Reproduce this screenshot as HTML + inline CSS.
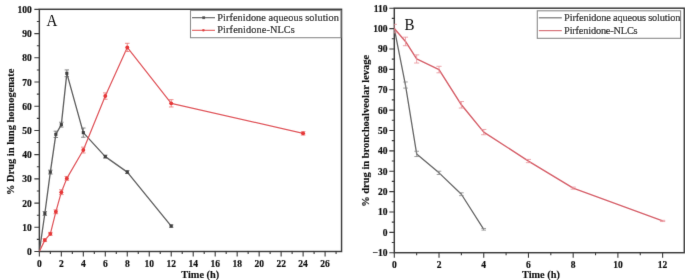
<!DOCTYPE html>
<html><head><meta charset="utf-8"><style>
html,body{margin:0;padding:0;background:#fff;}
svg{display:block;}
</style></head><body>
<svg width="685" height="280" viewBox="0 0 685 280">
<rect width="685" height="280" fill="#fff"/>
<defs><filter id="soft" x="0" y="0" width="685" height="280" filterUnits="userSpaceOnUse"><feConvolveMatrix order="3" kernelMatrix="0.0052 0.0619 0.0052 0.0619 0.7314 0.0619 0.0052 0.0619 0.0052" edgeMode="none"/></filter></defs>
<g filter="url(#soft)">
<defs><clipPath id="ca"><rect x="39.35" y="9.3" width="302.2" height="242.2"/></clipPath><clipPath id="cb"><rect x="394.3" y="8.2" width="290" height="244.5"/></clipPath></defs>
<rect x="39.35" y="9.3" width="302.2" height="242.2" fill="none" stroke="#3a3a3a" stroke-width="1.45"/>
<path d="M39.35 251.5H34.35 M39.35 239.4H36.85 M39.35 227.29H34.35 M39.35 215.19H36.85 M39.35 203.08H34.35 M39.35 190.97H36.85 M39.35 178.87H34.35 M39.35 166.76H36.85 M39.35 154.66H34.35 M39.35 142.56H36.85 M39.35 130.45H34.35 M39.35 118.34H36.85 M39.35 106.24H34.35 M39.35 94.14H36.85 M39.35 82.03H34.35 M39.35 69.93H36.85 M39.35 57.82H34.35 M39.35 45.72H36.85 M39.35 33.61H34.35 M39.35 21.51H36.85 M39.35 9.4H34.35 M39.35 251.5V256.5 M50.34 251.5V254 M61.33 251.5V256.5 M72.32 251.5V254 M83.31 251.5V256.5 M94.3 251.5V254 M105.29 251.5V256.5 M116.28 251.5V254 M127.27 251.5V256.5 M138.26 251.5V254 M149.25 251.5V256.5 M160.24 251.5V254 M171.23 251.5V256.5 M182.22 251.5V254 M193.21 251.5V256.5 M204.2 251.5V254 M215.19 251.5V256.5 M226.18 251.5V254 M237.17 251.5V256.5 M248.16 251.5V254 M259.15 251.5V256.5 M270.14 251.5V254 M281.13 251.5V256.5 M292.12 251.5V254 M303.11 251.5V256.5 M314.1 251.5V254 M325.09 251.5V256.5 M336.08 251.5V254" stroke="#3a3a3a" stroke-width="1.1" fill="none"/>
<g font-family="'Liberation Serif', 'Times New Roman', serif" font-weight="bold" font-size="9.5" fill="#111" stroke="#111" stroke-width="0.2"><text x="31.75" y="255" text-anchor="end">0</text><text x="31.75" y="230.79" text-anchor="end">10</text><text x="31.75" y="206.58" text-anchor="end">20</text><text x="31.75" y="182.37" text-anchor="end">30</text><text x="31.75" y="158.16" text-anchor="end">40</text><text x="31.75" y="133.95" text-anchor="end">50</text><text x="31.75" y="109.74" text-anchor="end">60</text><text x="31.75" y="85.53" text-anchor="end">70</text><text x="31.75" y="61.32" text-anchor="end">80</text><text x="31.75" y="37.11" text-anchor="end">90</text><text x="31.75" y="12.9" text-anchor="end">100</text><text x="39.35" y="267.2" text-anchor="middle">0</text><text x="61.33" y="267.2" text-anchor="middle">2</text><text x="83.31" y="267.2" text-anchor="middle">4</text><text x="105.29" y="267.2" text-anchor="middle">6</text><text x="127.27" y="267.2" text-anchor="middle">8</text><text x="149.25" y="267.2" text-anchor="middle">10</text><text x="171.23" y="267.2" text-anchor="middle">12</text><text x="193.21" y="267.2" text-anchor="middle">14</text><text x="215.19" y="267.2" text-anchor="middle">16</text><text x="237.17" y="267.2" text-anchor="middle">18</text><text x="259.15" y="267.2" text-anchor="middle">20</text><text x="281.13" y="267.2" text-anchor="middle">22</text><text x="303.11" y="267.2" text-anchor="middle">24</text><text x="325.09" y="267.2" text-anchor="middle">26</text></g>
<text x="200.2" y="277.6" font-family="'Liberation Serif', 'Times New Roman', serif" font-weight="bold" font-size="10.3" fill="#111" stroke="#111" stroke-width="0.15" text-anchor="middle">Time (h)</text>
<text transform="translate(14 131.8) rotate(-90)" font-family="'Liberation Serif', 'Times New Roman', serif" font-weight="bold" font-size="11" fill="#111" stroke="#111" stroke-width="0.15" text-anchor="middle" textLength="126.5" lengthAdjust="spacingAndGlyphs">% Drug in lung homogenate</text>
<text transform="translate(46.5 25.8) scale(0.94 1)" font-family="'Liberation Serif', 'Times New Roman', serif" font-size="16" fill="#111">A</text>
<g clip-path="url(#ca)">
<polyline points="39.35,251.5 44.84,213.49 50.34,172.09 55.84,134.32 61.33,124.64 66.83,73.31 83.31,132.63 105.29,156.6 127.27,172.09 171.23,226.08" fill="none" stroke="#606060" stroke-width="1.35" stroke-linejoin="round"/>
<path d="M44.84 211.55V215.43M42.64 211.55H47.05M42.64 215.43H47.05 M50.34 170.15V174.03M48.14 170.15H52.54M48.14 174.03H52.54 M55.84 131.18V137.47M53.63 131.18H58.04M53.63 137.47H58.04 M61.33 122.22V127.06M59.13 122.22H63.53M59.13 127.06H63.53 M66.83 69.93V76.7M64.62 69.93H69.03M64.62 76.7H69.03 M83.31 128.03V137.23M81.11 128.03H85.51M81.11 137.23H85.51 M105.29 155.14V158.05M103.09 155.14H107.49M103.09 158.05H107.49 M127.27 170.64V173.54M125.07 170.64H129.47M125.07 173.54H129.47 M171.23 224.87V227.29M169.03 224.87H173.43M169.03 227.29H173.43" stroke="#666" stroke-width="0.8" fill="none"/>
<rect x="43.3" y="211.94" width="3.1" height="3.1" fill="#404040"/>
<rect x="48.79" y="170.54" width="3.1" height="3.1" fill="#404040"/>
<rect x="54.29" y="132.77" width="3.1" height="3.1" fill="#404040"/>
<rect x="59.78" y="123.09" width="3.1" height="3.1" fill="#404040"/>
<rect x="65.28" y="71.76" width="3.1" height="3.1" fill="#404040"/>
<rect x="81.76" y="131.08" width="3.1" height="3.1" fill="#404040"/>
<rect x="103.74" y="155.05" width="3.1" height="3.1" fill="#404040"/>
<rect x="125.72" y="170.54" width="3.1" height="3.1" fill="#404040"/>
<rect x="169.68" y="224.53" width="3.1" height="3.1" fill="#404040"/>
</g>
<g clip-path="url(#ca)">
<polyline points="39.35,251.5 44.84,240.12 50.34,233.83 55.84,211.8 61.33,192.19 66.83,178.39 83.31,150.06 105.29,96.07 127.27,47.41 171.23,103.33 303.11,133.36" fill="none" stroke="#e0565c" stroke-width="1.25" stroke-linejoin="round"/>
<path d="M44.84 238.67V241.57M42.55 238.67H47.14M42.55 241.57H47.14 M50.34 232.37V235.28M48.04 232.37H52.64M48.04 235.28H52.64 M55.84 209.86V213.73M53.54 209.86H58.13M53.54 213.73H58.13 M61.33 189.76V194.61M59.03 189.76H63.63M59.03 194.61H63.63 M66.83 176.45V180.32M64.53 176.45H69.12M64.53 180.32H69.12 M83.31 147.15V152.97M81.01 147.15H85.61M81.01 152.97H85.61 M105.29 92.92V99.22M102.99 92.92H107.59M102.99 99.22H107.59 M127.27 43.29V51.53M124.97 43.29H129.57M124.97 51.53H129.57 M171.23 99.7V106.97M168.93 99.7H173.53M168.93 106.97H173.53 M303.11 131.66V135.05M300.81 131.66H305.41M300.81 135.05H305.41" stroke="#e87070" stroke-width="0.8" fill="none"/>
<circle cx="44.84" cy="240.12" r="1.95" fill="#e63838"/>
<circle cx="50.34" cy="233.83" r="1.95" fill="#e63838"/>
<circle cx="55.84" cy="211.8" r="1.95" fill="#e63838"/>
<circle cx="61.33" cy="192.19" r="1.95" fill="#e63838"/>
<circle cx="66.83" cy="178.39" r="1.95" fill="#e63838"/>
<circle cx="83.31" cy="150.06" r="1.95" fill="#e63838"/>
<circle cx="105.29" cy="96.07" r="1.95" fill="#e63838"/>
<circle cx="127.27" cy="47.41" r="1.95" fill="#e63838"/>
<circle cx="171.23" cy="103.33" r="1.95" fill="#e63838"/>
<circle cx="303.11" cy="133.36" r="1.95" fill="#e63838"/>
</g>
<rect x="190.5" y="10.5" width="150.4" height="27.2" fill="#fff" stroke="#888" stroke-width="1.1"/>
<path d="M192 17.7H215" stroke="#505050" stroke-width="1.1"/>
<rect x="202.3" y="16.3" width="2.8" height="2.8" fill="#505050"/>
<text x="217.3" y="20.7" font-family="'Liberation Serif', 'Times New Roman', serif" font-size="10.3" fill="#111" stroke="#111" stroke-width="0.18" textLength="121.6">Pirfenidone aqueous solution</text>
<path d="M192 30.3H215" stroke="#e03a3a" stroke-width="1.0"/>
<circle cx="203.4" cy="30.3" r="1.3" fill="#e03a3a"/>
<text x="217.3" y="33.3" font-family="'Liberation Serif', 'Times New Roman', serif" font-size="10.3" fill="#111" stroke="#111" stroke-width="0.18" textLength="77.5">Pirfenidone-NLCs</text>
<rect x="394.3" y="8.2" width="290" height="244.5" fill="none" stroke="#3a3a3a" stroke-width="1.45"/>
<path d="M394.3 252.72H389.3 M394.3 242.54H391.8 M394.3 232.35H389.3 M394.3 222.16H391.8 M394.3 211.97H389.3 M394.3 201.79H391.8 M394.3 191.6H389.3 M394.3 181.41H391.8 M394.3 171.22H389.3 M394.3 161.04H391.8 M394.3 150.85H389.3 M394.3 140.66H391.8 M394.3 130.47H389.3 M394.3 120.29H391.8 M394.3 110.1H389.3 M394.3 99.91H391.8 M394.3 89.72H389.3 M394.3 79.54H391.8 M394.3 69.35H389.3 M394.3 59.16H391.8 M394.3 48.97H389.3 M394.3 38.79H391.8 M394.3 28.6H389.3 M394.3 18.41H391.8 M394.3 8.22H389.3 M394.3 252.7V257.7 M416.66 252.7V255.2 M439.02 252.7V257.7 M461.38 252.7V255.2 M483.74 252.7V257.7 M506.1 252.7V255.2 M528.46 252.7V257.7 M550.82 252.7V255.2 M573.18 252.7V257.7 M595.54 252.7V255.2 M617.9 252.7V257.7 M640.26 252.7V255.2 M662.62 252.7V257.7" stroke="#3a3a3a" stroke-width="1.1" fill="none"/>
<g font-family="'Liberation Serif', 'Times New Roman', serif" font-weight="bold" font-size="9.5" fill="#111" stroke="#111" stroke-width="0.2"><text x="387.4" y="256.23" text-anchor="end">−10</text><text x="387.4" y="235.85" text-anchor="end">0</text><text x="387.4" y="215.47" text-anchor="end">10</text><text x="387.4" y="195.1" text-anchor="end">20</text><text x="387.4" y="174.72" text-anchor="end">30</text><text x="387.4" y="154.35" text-anchor="end">40</text><text x="387.4" y="133.97" text-anchor="end">50</text><text x="387.4" y="113.6" text-anchor="end">60</text><text x="387.4" y="93.22" text-anchor="end">70</text><text x="387.4" y="72.85" text-anchor="end">80</text><text x="387.4" y="52.47" text-anchor="end">90</text><text x="387.4" y="32.1" text-anchor="end">100</text><text x="387.4" y="11.72" text-anchor="end">110</text><text x="394.3" y="268.4" text-anchor="middle">0</text><text x="439.02" y="268.4" text-anchor="middle">2</text><text x="483.74" y="268.4" text-anchor="middle">4</text><text x="528.46" y="268.4" text-anchor="middle">6</text><text x="573.18" y="268.4" text-anchor="middle">8</text><text x="617.9" y="268.4" text-anchor="middle">10</text><text x="662.62" y="268.4" text-anchor="middle">12</text></g>
<text x="540.9" y="277.6" font-family="'Liberation Serif', 'Times New Roman', serif" font-weight="bold" font-size="10.3" fill="#111" stroke="#111" stroke-width="0.15" text-anchor="middle">Time (h)</text>
<text transform="translate(368.6 130.8) rotate(-90)" font-family="'Liberation Serif', 'Times New Roman', serif" font-weight="bold" font-size="11" fill="#111" stroke="#111" stroke-width="0.15" text-anchor="middle" textLength="152" lengthAdjust="spacingAndGlyphs">% drug in bronchoalveolar levage</text>
<text transform="translate(404.4 30) scale(0.94 1)" font-family="'Liberation Serif', 'Times New Roman', serif" font-size="16" fill="#111">B</text>
<g clip-path="url(#cb)">
<polyline points="394.3,28.6 405.48,85.04 416.66,153.91 439.02,172.85 461.38,194.25 483.74,229.29" fill="none" stroke="#666" stroke-width="1.3" stroke-linejoin="round"/>
<path d="M405.48 81.98V88.09M403.18 81.98H407.78M403.18 88.09H407.78 M416.66 151.26V156.55M414.36 151.26H418.96M414.36 156.55H418.96 M439.02 171.22V174.48M436.72 171.22H441.32M436.72 174.48H441.32 M461.38 192.82V195.67M459.08 192.82H463.68M459.08 195.67H463.68 M483.74 228.48V230.11M481.44 228.48H486.04M481.44 230.11H486.04" stroke="#888" stroke-width="0.8" fill="none"/>
</g>
<g clip-path="url(#cb)">
<polyline points="394.3,28.6 405.48,41.44 416.66,58.96 439.02,69.55 461.38,104.8 483.74,132.1 528.46,161.04 573.18,188.14 662.62,220.94" fill="none" stroke="#d6606a" stroke-width="1.45" stroke-linejoin="round"/>
<path d="M394.3 24.32V32.88M391.7 24.32H396.9M391.7 32.88H396.9 M405.48 37.16V45.71M402.88 37.16H408.08M402.88 45.71H408.08 M416.66 54.88V63.03M414.06 54.88H419.26M414.06 63.03H419.26 M439.02 66.29V72.81M436.42 66.29H441.62M436.42 72.81H441.62 M461.38 101.54V108.06M458.78 101.54H463.98M458.78 108.06H463.98 M483.74 129.46V134.75M481.14 129.46H486.34M481.14 134.75H486.34 M528.46 159.41V162.67M525.86 159.41H531.06M525.86 162.67H531.06 M573.18 187.12V189.16M570.58 187.12H575.78M570.58 189.16H575.78 M662.62 220.33V221.55M660.02 220.33H665.22M660.02 221.55H665.22" stroke="#e89098" stroke-width="0.8" fill="none"/>
</g>
<rect x="537.3" y="10.8" width="143.3" height="27.5" fill="#fff" stroke="#888" stroke-width="1.1"/>
<path d="M538.8 17.8H561.8" stroke="#707070" stroke-width="1.2"/>
<text x="564.1" y="20.8" font-family="'Liberation Serif', 'Times New Roman', serif" font-size="10.3" fill="#111" stroke="#111" stroke-width="0.18" textLength="116.3">Pirfenidone aqueous solution</text>
<path d="M538.8 30.6H561.8" stroke="#d86870" stroke-width="1.2"/>
<text x="564.1" y="33.6" font-family="'Liberation Serif', 'Times New Roman', serif" font-size="10.3" fill="#111" stroke="#111" stroke-width="0.18" textLength="73.5">Pirfenidone-NLCs</text>
</g>
</svg>
</body></html>
